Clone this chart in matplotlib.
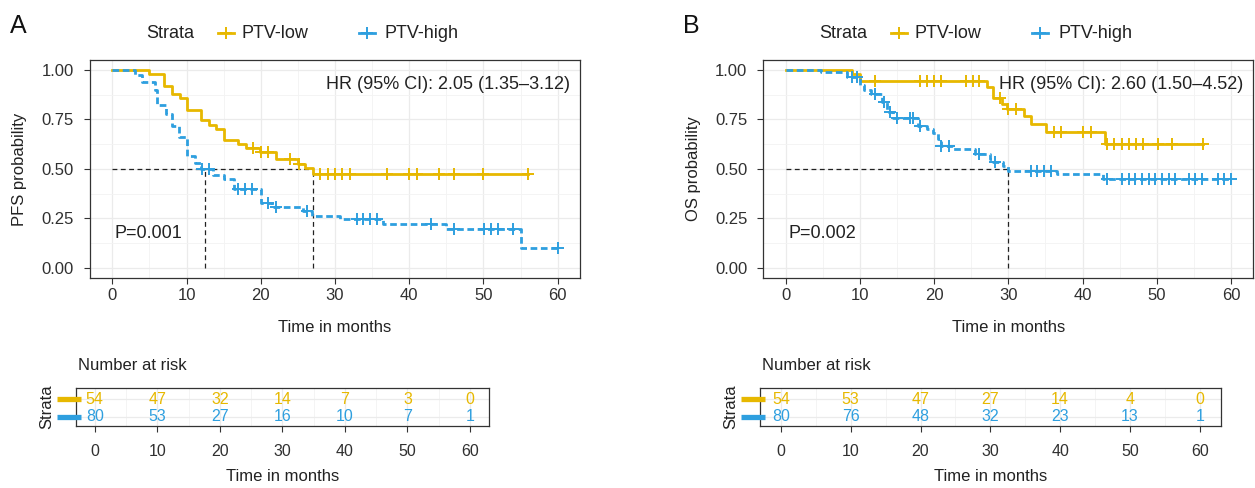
import numpy as np
import matplotlib
matplotlib.use('Agg')
import matplotlib.pyplot as plt
import matplotlib.transforms as mtransforms
from matplotlib.lines import Line2D

plt.rcParams['font.family'] = ['Liberation Sans', 'DejaVu Sans']
plt.rcParams['lines.scale_dashes'] = False

ORANGE = '#E7B800'
BLUE = '#2E9FDF'
TXT = '#222222'
TICKTXT = '#303030'

strata = ['PTV-low', 'PTV-high']
x_ticks = [0, 10, 20, 30, 40, 50, 60]
y_ticks = [0.0, 0.25, 0.5, 0.75, 1.0]
y_ticklabels = ['0.00', '0.25', '0.50', '0.75', '1.00']

# ---------------- Panel A (PFS) ----------------
a_low_t = [0, 5.0, 7.0, 8.0, 9.1, 10.1, 11.9, 13.0, 14.0, 15.0, 17.0, 18.0, 19.9, 22.0, 25.0, 26.0, 27.0]
a_low_s = [1.0, 0.981, 0.92, 0.88, 0.857, 0.795, 0.748, 0.72, 0.70, 0.645, 0.625, 0.605, 0.585, 0.548, 0.525, 0.503, 0.472]
a_low_end = 56.0
a_low_cens = [19.0, 20.0, 21.0, 24.0, 25.1, 28.0, 29.0, 30.0, 31.0, 32.0, 37.0, 40.0, 41.0, 44.0, 46.0, 50.0, 56.0]

a_high_t = [0, 3.0, 4.0, 5.7, 6.0, 7.3, 8.0, 9.0, 10.0, 11.2, 12.0, 13.6, 15.0, 16.4, 20.0, 21.5, 25.7, 26.9, 30.7, 36.5, 45.0, 55.1]
a_high_s = [1.0, 0.975, 0.94, 0.90, 0.825, 0.775, 0.715, 0.66, 0.565, 0.53, 0.50, 0.47, 0.447, 0.396, 0.329, 0.309, 0.287, 0.262, 0.245, 0.223, 0.198, 0.098]
a_high_end = 60.0
a_high_cens = [12.1, 13.0, 17.0, 17.9, 18.8, 21.0, 22.0, 26.2, 32.9, 33.8, 34.7, 35.6, 42.9, 46.0, 50.1, 51.0, 51.9, 54.0, 60.0]

a_medians = [27.0, 12.5]
a_hr = 'HR (95% CI): 2.05 (1.35\u20133.12)'
a_p = 'P=0.001'
a_ylabel = 'PFS probability'
a_risk_low = [54, 47, 32, 14, 7, 3, 0]
a_risk_high = [80, 53, 27, 16, 10, 7, 1]

# ---------------- Panel B (OS) ----------------
b_low_t = [0, 9.0, 10.0, 27.1, 28.0, 29.1, 29.8, 32.1, 33.1, 35.1, 43.0]
b_low_s = [1.0, 0.981, 0.944, 0.913, 0.857, 0.828, 0.80, 0.765, 0.728, 0.686, 0.624]
b_low_end = 56.2
b_low_cens = [12.0, 18.1, 19.0, 20.0, 21.0, 24.3, 25.2, 26.1, 28.9, 30.0, 31.0, 36.1, 37.1, 40.1, 41.1,
              43.3, 44.3, 45.3, 46.2, 47.2, 48.2, 50.1, 52.1, 56.2]

b_high_t = [0, 4.8, 8.3, 10.0, 10.5, 11.5, 13.0, 13.7, 14.5, 17.8, 19.0, 19.9, 20.5, 21.0, 22.6, 25.5, 27.5, 28.0, 29.3, 30.0, 36.5, 42.8]
b_high_s = [1.0, 0.9875, 0.962, 0.925, 0.90, 0.877, 0.84, 0.787, 0.755, 0.718, 0.70, 0.683, 0.65, 0.615, 0.599, 0.573, 0.55, 0.535, 0.514, 0.487, 0.472, 0.447]
b_high_end = 60.0
b_high_cens = [8.9, 9.6, 12.0, 13.2, 14.0, 15.0, 16.75, 17.2, 18.1, 21.0, 22.0, 26.0, 28.2, 33.0, 33.9, 34.8, 35.7,
               43.3, 45.3, 46.2, 47.1, 48.0, 48.9, 49.8, 50.7, 51.6, 52.5, 54.3, 55.2, 56.1, 58.2, 59.1, 60.0]

b_medians = [None, 30.0]
b_hr = 'HR (95% CI): 2.60 (1.50\u20134.52)'
b_p = 'P=0.002'
b_ylabel = 'OS probability'
b_risk_low = [54, 53, 47, 27, 14, 4, 0]
b_risk_high = [80, 76, 48, 32, 23, 13, 1]

W, H = 1255, 488
fig = plt.figure(figsize=(W / 100, H / 100), dpi=100)


def fx(px):
    return px / W


def fy(py):
    return 1 - py / H


def surv_at(t, s, x):
    idx = np.searchsorted(np.asarray(t), x, side='right') - 1
    return np.asarray(s)[idx]


def style_grid(ax):
    ax.set_xticks(np.arange(5, 60, 10), minor=True)
    ax.grid(True, which='major', color='#EBEBEB', lw=0.9, zorder=0)
    ax.grid(True, which='minor', color='#F3F3F3', lw=0.6, zorder=0)
    ax.set_axisbelow(True)
    for sp in ax.spines.values():
        sp.set_color('#333333')
        sp.set_linewidth(0.9)
    ax.tick_params(which='minor', length=0)
    ax.tick_params(which='major', direction='out', length=4.5, width=0.8, color='#333333',
                   labelcolor=TICKTXT, labelsize=12)


def km_panel(left_px, series, medians, hr, ptxt, ylabel, letter):
    ax = fig.add_axes([fx(left_px), fy(277.7), fx(490), 217.7 / H])
    ax.set_xlim(-3, 63)
    ax.set_ylim(-0.05, 1.05)
    ax.set_xticks(x_ticks)
    ax.set_yticks(y_ticks)
    ax.set_yticklabels(y_ticklabels)
    ax.set_yticks(np.arange(0.125, 1.0, 0.25), minor=True)
    style_grid(ax)
    ax.tick_params(axis='y', pad=7)
    ax.tick_params(axis='x', pad=3)
    valid = [m for m in medians if m is not None]
    if valid:
        ax.plot([0, max(valid)], [0.5, 0.5], color='#222222', lw=0.9, ls=(0, (3.5, 2.5)), zorder=2)
        for m in valid:
            ax.plot([m, m], [0, 0.5], color='#222222', lw=0.9, ls=(0, (3.5, 2.5)), zorder=2)
    for (t, s, end, cens, col, dashed) in series:
        tt = list(t) + [end]
        ss = list(s) + [s[-1]]
        ls = (0, (4.8, 2.6)) if dashed else '-'
        ax.step(tt, ss, where='post', color=col, lw=2.0, ls=ls, zorder=3)
        cy = surv_at(t, s, np.asarray(cens))
        ax.plot(cens, cy, ls='none', marker='+', ms=8, mew=1.4, color=col, zorder=4)
    ax.text(0.98, 0.888, hr, transform=ax.transAxes, ha='right', va='center', fontsize=13, color=TXT)
    ax.text(0.051, 0.204, ptxt, transform=ax.transAxes, ha='left', va='center', fontsize=13, color=TXT)
    fig.text(fx(left_px + (580 - 90) / 2), fy(328), 'Time in months', ha='center', va='center',
             fontsize=12, color=TXT)
    fig.text(fx(left_px - 70), fy(168.9), ylabel, rotation=90, ha='center', va='center',
             fontsize=12, color=TXT)
    fig.text(fx(left_px - 80), fy(26), letter, ha='left', va='center', fontsize=18, color='#111111')
    return ax


def legend_row(left_px):
    yc = fy(33.3)
    fig.text(fx(left_px + 56), yc, 'Strata', ha='left', va='center', fontsize=13, color=TXT)
    for (cx, lab_x, col, lab) in [(136, 151.5, ORANGE, strata[0]), (277, 295, BLUE, strata[1])]:
        fig.add_artist(Line2D([fx(left_px + cx - 8), fx(left_px + cx + 8)], [yc, yc], color=col, lw=2.0))
        fig.add_artist(Line2D([fx(left_px + cx)], [yc], marker='+', ms=9, mew=1.4, color=col, ls='none'))
        fig.text(fx(left_px + lab_x), yc, lab, ha='left', va='center', fontsize=13, color=TXT)


def risk_panel(left_px, width_px, low, high):
    ax = fig.add_axes([fx(left_px), fy(426), fx(width_px), 37.7 / H])
    ax.set_xlim(-3, 63)
    ax.set_ylim(0.47, 2.63)
    ax.set_xticks(x_ticks)
    ax.set_yticks([1, 2])
    ax.set_yticklabels(['', ''])
    style_grid(ax)
    ax.tick_params(axis='y', length=0)
    ax.tick_params(axis='x', pad=8.5, labelsize=11.5)
    for x, a, b in zip(x_ticks, low, high):
        ax.text(x, 2, str(a), ha='center', va='center', color=ORANGE, fontsize=11.5)
        ax.text(x, 1, str(b), ha='center', va='center', color=BLUE, fontsize=11.5)
    tr = mtransforms.blended_transform_factory(ax.transAxes, ax.transData)
    x0 = -19.3 / width_px
    x1 = 5.0 / width_px
    for yv, col in [(2, ORANGE), (1, BLUE)]:
        ax.add_line(Line2D([x0, x1], [yv, yv], transform=tr, color=col, lw=3.8,
                           solid_capstyle='butt', clip_on=False, zorder=5))
    fig.text(fx(left_px - 29.3), fy(407), 'Strata', rotation=90, ha='center', va='center',
             fontsize=12, color=TXT)
    fig.text(fx(left_px + 2), fy(366), 'Number at risk', ha='left', va='center', fontsize=12, color=TXT)
    fig.text(fx(left_px + width_px / 2), fy(476.7), 'Time in months', ha='center', va='center',
             fontsize=12, color=TXT)
    return ax


km_panel(90, [(a_low_t, a_low_s, a_low_end, a_low_cens, ORANGE, False),
              (a_high_t, a_high_s, a_high_end, a_high_cens, BLUE, True)],
         a_medians, a_hr, a_p, a_ylabel, 'A')
km_panel(763.3, [(b_low_t, b_low_s, b_low_end, b_low_cens, ORANGE, False),
                 (b_high_t, b_high_s, b_high_end, b_high_cens, BLUE, True)],
         b_medians, b_hr, b_p, b_ylabel, 'B')
legend_row(90)
legend_row(763.3)
risk_panel(76, 412.7, a_risk_low, a_risk_high)
risk_panel(760, 460.7, b_risk_low, b_risk_high)

fig.savefig('out.png', dpi=100)
